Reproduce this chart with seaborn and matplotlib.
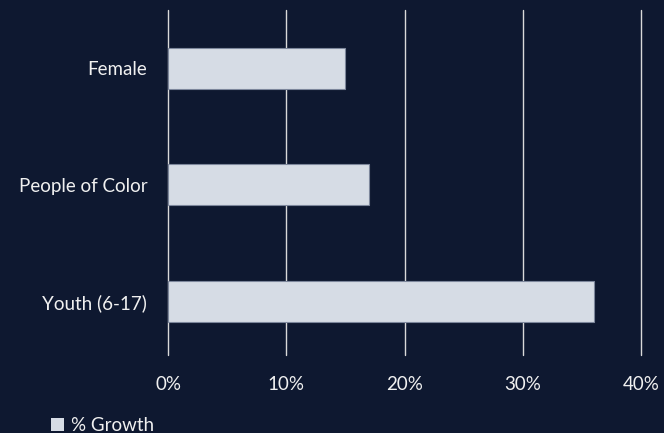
import matplotlib
matplotlib.use('Agg')
import matplotlib.pyplot as plt
import seaborn as sns
import pandas as pd
from matplotlib.patches import Patch

# data
categories = ['Female', 'People of Color', 'Youth (6-17)']
growth = [15, 17, 36]
x_ticks = [0, 10, 20, 30, 40]
series_name = '% Growth'

bg = '#0e1830'
bar_color = '#d6dce5'
text_color = '#f0f0f0'

sns.set_theme(style='white')
plt.rcParams['font.family'] = ['Lato', 'DejaVu Sans']

df = pd.DataFrame({'group': categories, 'growth': growth})

fig = plt.figure(figsize=(6.64, 4.33), dpi=100, facecolor=bg)
ax = fig.add_axes([168 / 664, 78 / 433, 473 / 664, 345 / 433])
ax.set_facecolor(bg)

sns.barplot(data=df, x='growth', y='group', orient='h', color=bar_color,
            saturation=1, width=0.35, edgecolor='#7d879c', linewidth=0.8, ax=ax)

ax.set_xlim(0, 40)
ax.set_ylim(2.46, -0.5)
ax.set_xticks(x_ticks)
ax.set_xticklabels([f'{v}%' for v in x_ticks])
ax.set_xlabel('')
ax.set_ylabel('')

ax.set_axisbelow(True)
ax.xaxis.grid(True, color='#d9d9d9', linewidth=1.0)
ax.yaxis.grid(False)
for gl in ax.get_xgridlines():
    gl.set_clip_on(False)
for s in ax.spines.values():
    s.set_visible(False)

ax.tick_params(axis='x', length=0, pad=15, labelsize=13.5, colors=text_color)
ax.tick_params(axis='y', length=0, pad=15, labelsize=13.5, colors=text_color)

fig.legend(handles=[Patch(facecolor=bar_color, edgecolor='none', label=series_name)],
           loc='lower left', bbox_to_anchor=(51 / 664, -0.002), frameon=False,
           handlelength=0.7, handleheight=0.7, handletextpad=0.35,
           borderpad=0, borderaxespad=0, fontsize=13.5, labelcolor=text_color)

fig.savefig('out.png', dpi=100, facecolor=bg)
